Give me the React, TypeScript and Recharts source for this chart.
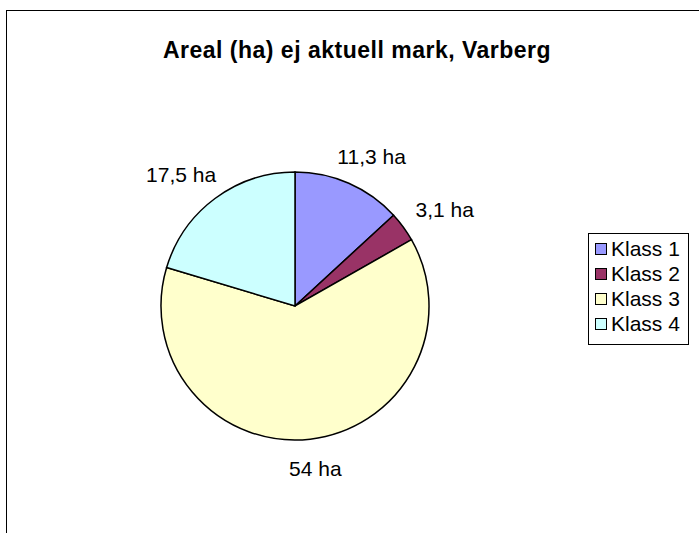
import { PieChart, Pie, Cell } from 'recharts';

const classes = ['Klass 1', 'Klass 2', 'Klass 3', 'Klass 4'];
const areas = [11.3, 3.1, 54, 17.5];
const labels = ['11,3 ha', '3,1 ha', '54 ha', '17,5 ha'];
const colors = ['#9999FF', '#993366', '#FFFFCC', '#CCFFFF'];

const data = classes.map((name, i) => ({ name, value: areas[i], label: labels[i] }));

const FONT = 'Arial, "Liberation Sans", sans-serif';
const RADIAN = Math.PI / 180;
const LABEL_SIZE = 21;

// label box sits just outside the rim, shifted along the slice direction
function renderLabel(props: any) {
  const { cx, cy, midAngle, outerRadius, index } = props;
  const r = outerRadius + 20;
  const dx = Math.cos(midAngle * RADIAN);
  const dy = -Math.sin(midAngle * RADIAN);
  const halfW = (labels[index].length * LABEL_SIZE * 0.5) / 2;
  const halfH = LABEL_SIZE * 0.45;
  const x = cx + r * dx + dx * halfW;
  const y = cy + r * dy + dy * halfH;
  return (
    <text
      x={x}
      y={y}
      textAnchor="middle"
      dominantBaseline="central"
      fontSize={LABEL_SIZE}
      fontFamily={FONT}
      fill="#000"
    >
      {labels[index]}
    </text>
  );
}

export default function App() {
  return (
    <div style={{ position: 'absolute', left: 0, top: 0, width: 699, height: 533, background: '#fff' }}>
      <div
        style={{
          position: 'absolute',
          left: 6,
          top: 10,
          right: -2,
          bottom: -2,
          borderLeft: '1.5px solid #000',
          borderTop: '1.5px solid #000',
        }}
      />
      <div
        style={{
          position: 'absolute',
          left: 0,
          width: 714,
          top: 36,
          textAlign: 'center',
          fontFamily: FONT,
          fontWeight: 'bold',
          fontSize: 23,
          letterSpacing: 0.5,
          lineHeight: '28px',
        }}
      >
        Areal (ha) ej aktuell mark, Varberg
      </div>
      <div style={{ position: 'absolute', left: 0, top: 0 }}>
        <PieChart width={699} height={533} margin={{ top: 0, right: 0, bottom: 0, left: 0 }}>
          <Pie
            data={data}
            dataKey="value"
            nameKey="name"
            cx={295}
            cy={306}
            outerRadius={134}
            startAngle={90}
            endAngle={-270}
            stroke="#000"
            strokeWidth={1.5}
            label={renderLabel}
            labelLine={false}
            isAnimationActive={false}
          >
            {data.map((d, i) => (
              <Cell key={d.name} fill={colors[i]} />
            ))}
          </Pie>
        </PieChart>
      </div>
      <div
        style={{
          position: 'absolute',
          left: 588,
          top: 233,
          width: 101,
          height: 112,
          border: '1px solid #000',
          boxSizing: 'border-box',
          fontFamily: FONT,
          fontSize: 21,
          paddingTop: 2,
        }}
      >
        {data.map((d, i) => (
          <div key={d.name} style={{ display: 'flex', alignItems: 'center', height: 25, paddingLeft: 6 }}>
            <span
              style={{
                display: 'inline-block',
                width: 10,
                height: 10,
                border: '1px solid #000',
                background: colors[i],
                marginRight: 4,
              }}
            />
            {d.name}
          </div>
        ))}
      </div>
    </div>
  );
}
